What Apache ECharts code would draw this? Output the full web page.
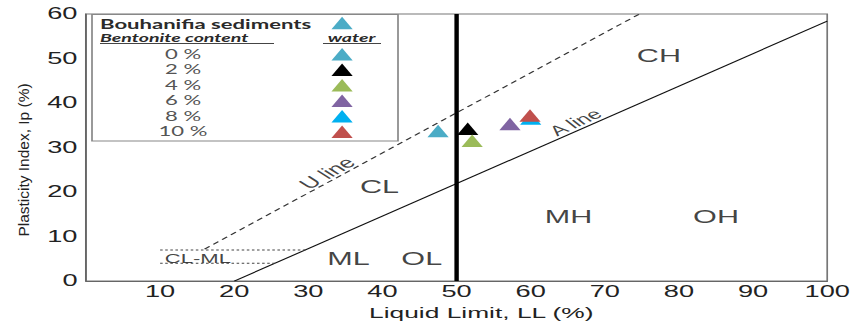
<!DOCTYPE html>
<html><head><meta charset="utf-8">
<script src="https://cdn.jsdelivr.net/npm/echarts@6/dist/echarts.min.js"></script>
<style>
html,body{margin:0;padding:0;background:#fff;overflow:hidden;width:855px;height:326px}
#chart{width:503px;height:326px;transform:scaleX(1.699801);transform-origin:0 0;}
</style>
</head><body><div id="chart"></div>
<script>
// ---- data ----
const xTickLabels = ['10','20','30','40','50','60','70','80','90','100'];
const yTickLabels = ['0','10','20','30','40','50','60'];
const headerName = 'Bouhanifia sediments';
const sampleNames = ['0 %','2 %','4 %','6 %','8 %','10 %'];
const sampleLL = [47.5, 51.5, 52.1, 57.2, 60.0, 59.9];
const samplePI = [33.7, 34.2, 31.5, 35.3, 36.5, 37.2];
const aLineLL = [20, 100];
const aLinePI = [0, 58.4];
const uLineLL = [16, 74.67];
const uLinePI = [7.2, 60];
const clmlTopLL = [10, 29.6];
const clmlTopPI = [7, 7];
const clmlBotLL = [10, 25.5];
const clmlBotPI = [4, 4];
const dividerLL = [50, 50];
const dividerPI = [0, 60];
const zoneNames = ['CL','ML','OL','MH','OH','CH','CL-ML'];
const zoneLL = [39.6, 35.4, 45.3, 65.1, 85.0, 77.3, 15.1];
const zonePI = [21.2, 5.0, 5.0, 14.4, 14.4, 50.7, 5.1];
const lineLabelNames = ['U line','A line'];
const lineLabelLL = [32.5, 66.0];
const lineLabelPI = [24.3, 35.7];

// ---- styles ----
const S = 855/503;
const sampleColors = ['#4bacc6','#000000','#9bbb59','#8064a2','#00b0f0','#c0504d'];
const headerColor = '#4bacc6';
const FONT = '"Liberation Sans", Arial, sans-serif';
const LFONT = 'Lato, "Liberation Sans", sans-serif';
const lineLabelRotate = [42.96, 37.05];
const lineLabelSize = [15, 14];

const chart = echarts.init(document.getElementById('chart'), null, {renderer:'svg'});

function lineSeries(name, xs, ys, style, z){
  return {type:'line', name, data: xs.map((x,i)=>[x, ys[i]]), symbol:'none', silent:true,
    lineStyle: style, z, animation:false};
}

const series = [
  lineSeries('A-line', aLineLL, aLinePI, {color:'#111', width:1}, 2),
  lineSeries('U-line', uLineLL, uLinePI, {color:'#333', width:1, type:[4,3]}, 2),
  lineSeries('CL-ML top', clmlTopLL, clmlTopPI, {color:'#444', width:1, type:[1.5,1.5]}, 2),
  lineSeries('CL-ML bottom', clmlBotLL, clmlBotPI, {color:'#444', width:1, type:[1.5,1.5]}, 2),
  lineSeries('LL50', dividerLL, dividerPI, {color:'#000', width:2.6}, 3),
  {type:'scatter', name: headerName, data: [], symbol:'triangle', itemStyle:{color: headerColor, opacity:1}},
];
sampleNames.forEach((n,i)=>{
  series.push({type:'scatter', name:n, data:[[sampleLL[i], samplePI[i]]], symbol:'triangle',
    symbolSize:[12.5,12.5], itemStyle:{color: sampleColors[i], opacity:1}, z:10, animation:false});
});
series.push({type:'scatter', name:'zones', silent:true, symbolSize:1, itemStyle:{color:'rgba(0,0,0,0)'}, z:5,
  data: zoneNames.map((n,i)=>({name:n, value:[zoneLL[i], zonePI[i]],
    label:{fontSize: n==='CL-ML'?13:18}})),
  label:{show:true, position:'inside', formatter:p=>p.name, color:'#111', fontFamily:FONT, fontSize:18},
  animation:false});
series.push({type:'scatter', name:'linelabels', silent:true, symbolSize:1, itemStyle:{color:'rgba(0,0,0,0)'}, z:5,
  data: lineLabelNames.map((n,i)=>({name:n, value:[lineLabelLL[i], lineLabelPI[i]],
    label:{rotate: lineLabelRotate[i], fontSize: lineLabelSize[i]}})),
  label:{show:true, position:'inside', formatter:p=>p.name, color:'#111', fontFamily:FONT},
  animation:false});

const legendCommon = {orient:'vertical', left:195, itemWidth:12.5, itemHeight:12.5, itemGap:3, padding:0,
  selectedMode:false, formatter:()=>'', textStyle:{fontSize:6, lineHeight:6}, itemStyle:{borderWidth:0, opacity:1}};

const graphics = [
  {type:'rect', shape:{x:92/S, y:14.5, width:(398-92)/S, height:126.5}, style:{fill:'none', stroke:'#888', lineWidth:1}, z:20},
  {type:'text', x:100/S, y:24, z:20, style:{text: headerName, font:'bold 13px '+LFONT, fill:'#2a2a2a', align:'left', verticalAlign:'middle'}},
  {type:'text', x:100/S, y:37.5, z:20, style:{text:'Bentonite content', font:'italic bold 11.5px '+LFONT, fill:'#2a2a2a', align:'left', verticalAlign:'middle'}},
  {type:'line', shape:{x1:100/S, y1:43.5, x2:274/S, y2:43.5}, style:{stroke:'#444', lineWidth:1}, z:20},
  {type:'text', x:351.5/S, y:37.5, z:20, style:{text:'water', font:'italic bold 11.5px '+LFONT, fill:'#2a2a2a', align:'center', verticalAlign:'middle'}},
  {type:'line', shape:{x1:323/S, y1:43.5, x2:381/S, y2:43.5}, style:{stroke:'#444', lineWidth:1}, z:20},
  {type:'text', x:14.1, y:160, rotation:Math.PI/2, scaleY:1/S, z:20,
    style:{text:'Plasticity Index, Ip (%)', font:'15.5px '+FONT, fill:'#222', align:'center', verticalAlign:'middle'}}
];
sampleNames.forEach((n,i)=>{
  graphics.push({type:'text', x:183/S, y:53.5+15.5*i, z:20,
    style:{text:n, font:'13px '+LFONT, fill:'#555', align:'center', verticalAlign:'middle'}});
});

chart.setOption({
  animation:false,
  backgroundColor:'#fff',
  grid:{left:86/S, right:503-831/S, top:14, bottom:40, show:true, borderColor:'#777', borderWidth:1, backgroundColor:'transparent'},
  xAxis:{type:'value', min:0, max:100, interval:10,
    axisLine:{show:true, lineStyle:{color:'#666', width:1}}, axisTick:{show:false}, splitLine:{show:false},
    axisLabel:{margin:3, fontSize:16, fontFamily:FONT, color:'#222',
      formatter:v=> xTickLabels.includes(String(v)) ? String(v) : ''},
    name:'Liquid Limit, LL (%)', nameLocation:'middle', nameGap:18,
    nameTextStyle:{fontSize:15.5, fontFamily:FONT, color:'#222', padding:[0,0,0,29]}},
  yAxis:{type:'value', min:0, max:60, interval:10,
    axisLine:{show:true, lineStyle:{color:'#666', width:1}}, axisTick:{show:false}, splitLine:{show:false},
    axisLabel:{margin:5, fontSize:16, fontFamily:FONT, color:'#222',
      formatter:v=> yTickLabels.includes(String(v)) ? String(v) : ''}},
  legend:[
    Object.assign({}, legendCommon, {top:48, data: sampleNames.map(n=>({name:n, icon:'triangle'}))}),
    Object.assign({}, legendCommon, {top:16.75, data:[{name:headerName, icon:'triangle'}]})
  ],
  graphic:{elements: graphics},
  series
});
</script>
</body></html>
